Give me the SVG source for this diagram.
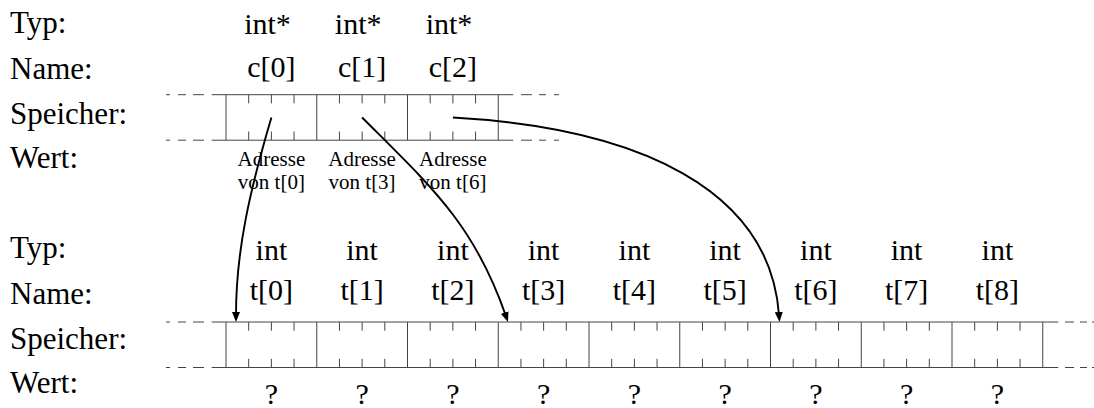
<svg xmlns="http://www.w3.org/2000/svg" xmlns:xlink="http://www.w3.org/1999/xlink" width="1094" height="408" viewBox="0 0 1094 408">
  <style>
    .lbl { font-size: 31px; }
    .col { font-size: 30px; text-anchor: middle; }
    .addr { font-size: 21px; text-anchor: middle; }
    .mem { stroke: #444; stroke-width: 1; fill: none; }
    .arrow { stroke: #000; stroke-width: 1.9; fill: none; marker-end: url(#head); }
  </style>
  <defs>
    <marker id="head" viewBox="0 0 10 8" refX="3" refY="4" markerWidth="10" markerHeight="8" markerUnits="userSpaceOnUse" orient="auto">
      <path d="M0,0 L10,4 L0,8 z" fill="#000"/>
    </marker>
    <g id="cell">
      <path class="mem" d="M0,0V45.5 M22.69,0v8.7 M45.38,0v8.7 M68.06,0v8.7 M22.69,45.5v-8.7 M45.38,45.5v-8.7 M68.06,45.5v-8.7"/>
    </g>
    <path id="dashL" class="mem" d="M166,0H170 M178,0H186 M193,0H204"/>
  </defs>

  <g font-family="Liberation Serif, Times New Roman, DejaVu Serif, serif" fill="#000">
  <!-- row labels, top -->
  <g id="labels-top">
    <text class="lbl" x="10" y="33">Typ:</text>
    <text class="lbl" x="10" y="79">Name:</text>
    <text class="lbl" x="10" y="124">Speicher:</text>
    <text class="lbl" x="10" y="168">Wert:</text>
  </g>
  <!-- row labels, bottom -->
  <g id="labels-bottom">
    <text class="lbl" x="10" y="258">Typ:</text>
    <text class="lbl" x="10" y="304">Name:</text>
    <text class="lbl" x="10" y="349">Speicher:</text>
    <text class="lbl" x="10" y="393">Wert:</text>
  </g>

  <g id="c0">
    <text class="col" x="267.5" y="34">int*</text>
    <text class="col" x="271.4" y="76.5">c[0]</text>
    <text class="addr" x="271.4" y="165.5">Adresse</text>
    <text class="addr" x="271.4" y="189">von t[0]</text>
  </g>
  <g id="c1">
    <text class="col" x="358.2" y="34">int*</text>
    <text class="col" x="362.1" y="76.5">c[1]</text>
    <text class="addr" x="362.1" y="165.5">Adresse</text>
    <text class="addr" x="362.1" y="189">von t[3]</text>
  </g>
  <g id="c2">
    <text class="col" x="449" y="34">int*</text>
    <text class="col" x="452.9" y="76.5">c[2]</text>
    <text class="addr" x="452.9" y="165.5">Adresse</text>
    <text class="addr" x="452.9" y="189">von t[6]</text>
  </g>

  <g id="t0"><text class="col" x="271.4" y="259.5">int</text><text class="col" x="271.4" y="300">t[0]</text><text class="col" x="271.4" y="404">?</text></g>
  <g id="t1"><text class="col" x="362.1" y="259.5">int</text><text class="col" x="362.1" y="300">t[1]</text><text class="col" x="362.1" y="404">?</text></g>
  <g id="t2"><text class="col" x="452.9" y="259.5">int</text><text class="col" x="452.9" y="300">t[2]</text><text class="col" x="452.9" y="404">?</text></g>
  <g id="t3"><text class="col" x="543.6" y="259.5">int</text><text class="col" x="543.6" y="300">t[3]</text><text class="col" x="543.6" y="404">?</text></g>
  <g id="t4"><text class="col" x="634.4" y="259.5">int</text><text class="col" x="634.4" y="300">t[4]</text><text class="col" x="634.4" y="404">?</text></g>
  <g id="t5"><text class="col" x="725.1" y="259.5">int</text><text class="col" x="725.1" y="300">t[5]</text><text class="col" x="725.1" y="404">?</text></g>
  <g id="t6"><text class="col" x="815.9" y="259.5">int</text><text class="col" x="815.9" y="300">t[6]</text><text class="col" x="815.9" y="404">?</text></g>
  <g id="t7"><text class="col" x="906.6" y="259.5">int</text><text class="col" x="906.6" y="300">t[7]</text><text class="col" x="906.6" y="404">?</text></g>
  <g id="t8"><text class="col" x="997.4" y="259.5">int</text><text class="col" x="997.4" y="300">t[8]</text><text class="col" x="997.4" y="404">?</text></g>
  </g>

  <!-- pointer array c -->
  <g id="memory-c">
    <use xlink:href="#dashL" href="#dashL" y="94.7"/>
    <use xlink:href="#dashL" href="#dashL" y="140.2"/>
    <path class="mem" d="M211.7,94.7H513.3 M211.7,140.2H513.3"/>
    <path class="mem" d="M521,94.7H532 M539,94.7H546 M554,94.7H559 M521,140.2H532 M539,140.2H546 M554,140.2H559"/>
    <use xlink:href="#cell" href="#cell" x="226" y="94.7"/>
    <use xlink:href="#cell" href="#cell" x="316.75" y="94.7"/>
    <use xlink:href="#cell" href="#cell" x="407.5" y="94.7"/>
    <path class="mem" d="M498.25,94.7V140.2"/>
  </g>

  <!-- int array t -->
  <g id="memory-t">
    <use xlink:href="#dashL" href="#dashL" y="322"/>
    <use xlink:href="#dashL" href="#dashL" y="367.5"/>
    <path class="mem" d="M211.7,322H1058.3 M211.7,367.5H1058.3"/>
    <path class="mem" d="M1065,322H1074 M1080,322H1087 M1092,322H1096 M1065,367.5H1074 M1080,367.5H1087 M1092,367.5H1096"/>
    <use xlink:href="#cell" href="#cell" x="226" y="322"/>
    <use xlink:href="#cell" href="#cell" x="316.75" y="322"/>
    <use xlink:href="#cell" href="#cell" x="407.5" y="322"/>
    <use xlink:href="#cell" href="#cell" x="498.25" y="322"/>
    <use xlink:href="#cell" href="#cell" x="589" y="322"/>
    <use xlink:href="#cell" href="#cell" x="679.75" y="322"/>
    <use xlink:href="#cell" href="#cell" x="770.5" y="322"/>
    <use xlink:href="#cell" href="#cell" x="861.25" y="322"/>
    <use xlink:href="#cell" href="#cell" x="952" y="322"/>
    <path class="mem" d="M1042.75,322V367.5"/>
  </g>

  <!-- connectors -->
  <g id="connectors">
    <path class="arrow" d="M271.4,117.5 C250,190 236,250 236,315"/>
    <path class="arrow" d="M362.1,117.5 C431,186.5 474,224 505.7,315.4"/>
    <path class="arrow" d="M452.9,117.5 C640,128 770,190 779,315"/>
  </g>
</svg>
